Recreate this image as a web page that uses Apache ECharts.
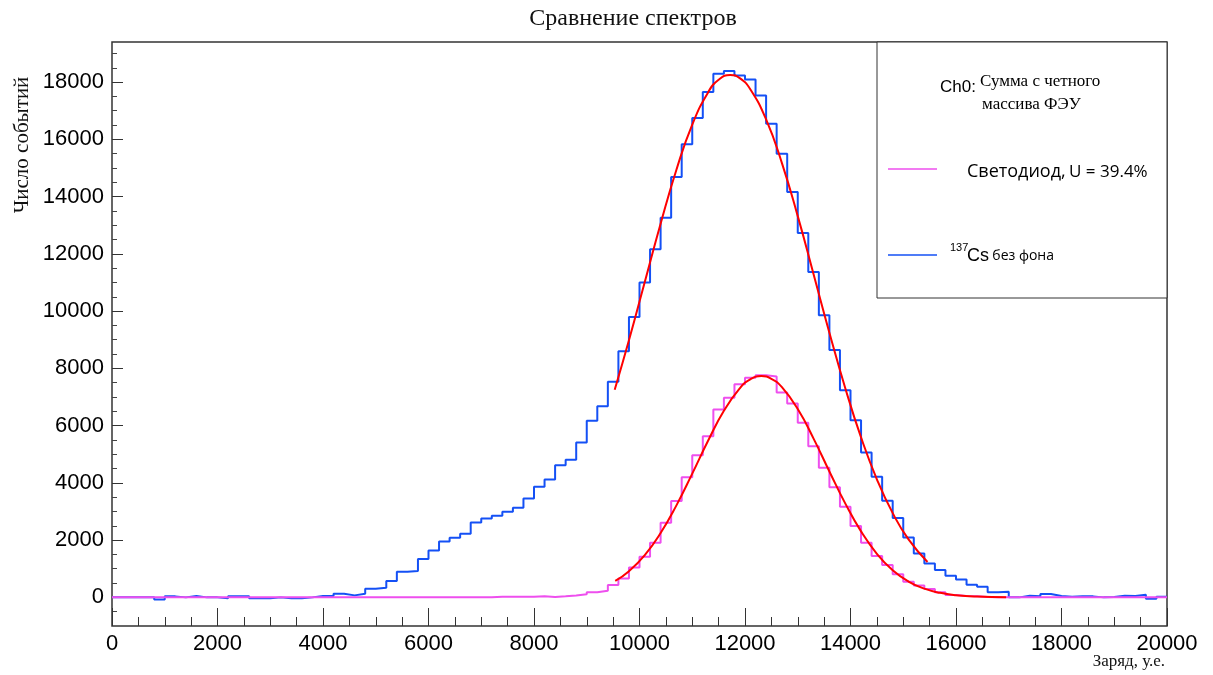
<!DOCTYPE html>
<html>
<head>
<meta charset="utf-8">
<title>Сравнение спектров</title>
<script src="https://cdn.jsdelivr.net/npm/echarts@6/dist/echarts.min.js"></script>
<style>
  html, body { margin: 0; padding: 0; background: #fff; }
  #chart { width: 1213px; height: 675px; }
</style>
</head>
<body>
<div id="chart"></div>
<script>
// гистограммы: 100 бинов по 200 у.е., от 0 до 20000
var binStart = 0
var binWidth = 200

// 137Cs без фона (синяя)
var csCounts = [
  0, 0, 0, 0, -70, 35, 0, 47, 0, 0,
  -35, 35, 35, -35, -35, 0, -35, -35, 0, 47,
  47, 128, 70, 128, 302, 337, 570, 896, 920, 1338,
  1640, 1955, 2083, 2222, 2618, 2757, 2850, 2990, 3130, 3455,
  3863, 4119, 4619, 4806, 5410, 6167, 6678, 7528, 8600, 9797,
  10995, 12159, 13264, 14683, 15824, 16743, 17650, 18290, 18383, 18232,
  18092, 17534, 16545, 15498, 14160, 12729, 11367, 9855, 8640, 7237,
  6190, 5061, 4212, 3374, 2769, 2094, 1536, 1187, 954, 756,
  628, 442, 372, 175, 198, 0, 58, 35, 116, 47,
  23, 35, 35, 0, 12, 58, 47, 93, -47, 23
]

// Светодиод (розовая)
var ledCounts = [
  0, 0, 0, 0, 0, 0, 0, 0, 0, 0,
  0, 0, 0, 0, 0, 0, 0, 0, 0, 0,
  0, 0, 0, 0, 0, 0, 0, 0, 0, 0,
  0, 0, 0, 0, 0, 0, 20, 20, 20, 20,
  35, 12, 35, 65, 105, 180, 230, 430, 660, 1047,
  1420, 1908, 2606, 3370, 4200, 4968, 5631, 6562, 6969, 7446,
  7675, 7760, 7715, 7156, 6772, 6097, 5282, 4526, 3850, 3165,
  2496, 1908, 1448, 1129, 808, 547, 419, 291, 175, 81,
  47, 35, 12, 0, 0, 0, 0, 0, 0, 0,
  0, 0, 0, 0, 0, 0, 0, 0, 0, 0
]

// красные кривые фита, точки
var csFitX = [9530, 9800, 10100, 10400, 10700, 11000, 11300, 11500, 11720, 11900, 12100, 12400, 12700, 13000, 13300, 13600, 13900, 14200, 14500, 14800, 15100, 15460]
var csFitY = [7253, 8979, 11016, 13051, 14939, 16516, 17640, 18080, 18250, 18137, 17750, 16697, 15171, 13317, 11289, 9245, 7315, 5588, 4124, 2942, 2026, 1237]

var ledFitX = [9540, 9800, 10100, 10400, 10700, 11000, 11300, 11600, 11900, 12100, 12310, 12500, 12700, 13000, 13300, 13600, 13900, 14200, 14500, 14800, 15100, 15400, 15700, 16000, 16400, 16950]
var ledFitY = [575, 915, 1478, 2247, 3213, 4323, 5472, 6516, 7302, 7615, 7730, 7636, 7342, 6579, 5546, 4399, 3284, 2305, 1523, 947, 554, 304, 158, 77, 27, 5]

// подписи осей
var xTicks = [0, 2000, 4000, 6000, 8000, 10000, 12000, 14000, 16000, 18000, 20000]
var yTicks = [0, 2000, 4000, 6000, 8000, 10000, 12000, 14000, 16000, 18000]
var yMinorTicks = [-500, 500, 1000, 1500, 2500, 3000, 3500, 4500, 5000, 5500, 6500, 7000, 7500, 8500, 9000, 9500,
  10500, 11000, 11500, 12500, 13000, 13500, 14500, 15000, 15500, 16500, 17000, 17500, 18500, 19000]

;(function () {
  var blue = '#1450f5'
  var pink = '#ee4fee'
  var red = '#ff0000'
  var sans = 'Liberation Sans, Arial, sans-serif'
  var serif = 'Liberation Serif, Times New Roman, serif'

  // гистограмма в виде ступенек: точка на левом краю каждого бина
  var toSteps = function (counts) {
    var pts = counts.map(function (v, i) {
      return [binStart + i * binWidth, v]
    })
    pts.push([binStart + counts.length * binWidth, counts[counts.length - 1]])
    return pts
  }
  var zip = function (xs, ys) {
    return xs.map(function (x, i) {
      return [x, ys[i]]
    })
  }
  // без разделителей тысяч
  var plain = function (v) {
    return String(v)
  }

  var myChart = echarts.init(document.getElementById('chart'))

  var option = {
    animation: false,
    backgroundColor: '#fff',
    grid: {
      left: 112,
      right: 46,
      top: 42,
      bottom: 49,
      show: true,
      borderColor: '#333',
      borderWidth: 1.5,
      backgroundColor: 'transparent',
    },
    xAxis: {
      type: 'value',
      min: 0,
      max: 20000,
      interval: 2000,
      axisLine: { show: false, onZero: false },
      axisTick: {
        show: true,
        inside: true,
        length: 18,
        lineStyle: { color: '#333', width: 1 },
      },
      minorTick: {
        show: true,
        splitNumber: 4,
        length: 9,
        lineStyle: { color: '#333', width: 1 },
      },
      axisLabel: {
        margin: 7,
        color: '#000',
        fontSize: 22,
        fontFamily: sans,
        showMaxLabel: true,
        showMinLabel: true,
        customValues: xTicks,
        formatter: plain,
      },
      splitLine: { show: false },
      minorSplitLine: { show: false },
    },
    yAxis: [
      {
        type: 'value',
        min: -1000,
        max: 19400,
        axisLine: { show: false, onZero: false },
        axisTick: {
          show: true,
          inside: true,
          length: 11,
          customValues: yTicks,
          lineStyle: { color: '#333', width: 1 },
        },
        axisLabel: {
          margin: 8,
          color: '#000',
          fontSize: 22,
          fontFamily: sans,
          customValues: yTicks,
          formatter: plain,
        },
        splitLine: { show: false },
      },
      {
        // короткие засечки
        type: 'value',
        position: 'left',
        min: -1000,
        max: 19400,
        axisLine: { show: false, onZero: false },
        axisTick: {
          show: true,
          inside: true,
          length: 5,
          customValues: yMinorTicks,
          lineStyle: { color: '#444', width: 1 },
        },
        axisLabel: { show: false },
        splitLine: { show: false },
      },
    ],
    series: [
      {
        name: '137Cs без фона',
        type: 'line',
        step: 'end',
        symbol: 'none',
        lineStyle: { color: blue, width: 2 },
        data: toSteps(csCounts),
        z: 2,
      },
      {
        name: 'Светодиод',
        type: 'line',
        step: 'end',
        symbol: 'none',
        lineStyle: { color: pink, width: 2 },
        data: toSteps(ledCounts),
        z: 3,
      },
      {
        name: 'fit Cs',
        type: 'line',
        smooth: true,
        symbol: 'none',
        lineStyle: { color: red, width: 2 },
        data: zip(csFitX, csFitY),
        z: 4,
      },
      {
        name: 'fit LED',
        type: 'line',
        smooth: true,
        symbol: 'none',
        lineStyle: { color: red, width: 2 },
        data: zip(ledFitX, ledFitY),
        z: 4,
      },
    ],
    graphic: [
      // заголовок
      {
        type: 'text',
        x: 633,
        y: 19,
        style: { text: 'Сравнение спектров', font: '24px ' + serif, fill: '#111', align: 'center', verticalAlign: 'middle' },
      },
      // названия осей
      {
        type: 'text',
        x: 22,
        y: 145,
        rotation: Math.PI / 2,
        style: { text: 'Число событий', font: '21px ' + serif, fill: '#111', align: 'center', verticalAlign: 'middle' },
      },
      {
        type: 'text',
        x: 1165,
        y: 662,
        style: { text: 'Заряд, у.е.', font: '17px ' + serif, fill: '#111', align: 'right', verticalAlign: 'middle' },
      },
      // легенда
      {
        type: 'rect',
        shape: { x: 877, y: 42, width: 290, height: 256 },
        style: { fill: '#fff', stroke: '#333', lineWidth: 1 },
        z: 10,
      },
      {
        type: 'text',
        x: 940,
        y: 87,
        z: 11,
        style: { text: 'Ch0:', font: '17px ' + sans, fill: '#000', verticalAlign: 'middle' },
      },
      {
        type: 'text',
        x: 980,
        y: 82,
        z: 11,
        style: { text: 'Сумма с четного', font: '17px ' + serif, fill: '#000', verticalAlign: 'middle' },
      },
      {
        type: 'text',
        x: 982,
        y: 105,
        z: 11,
        style: { text: 'массива ФЭУ', font: '17px ' + serif, fill: '#000', verticalAlign: 'middle' },
      },
      {
        type: 'line',
        shape: { x1: 888, y1: 169, x2: 937, y2: 169 },
        style: { stroke: pink, lineWidth: 1.5 },
        z: 11,
      },
      {
        type: 'text',
        x: 967,
        y: 172,
        z: 11,
        style: {
          text: '{a|Светодиод,} {b|U = 39.4%}',
          verticalAlign: 'middle',
          rich: {
            a: { font: '18px Open Sans, ' + sans, fill: '#000' },
            b: { font: '17px Open Sans, ' + sans, fill: '#000' },
          },
        },
      },
      {
        type: 'line',
        shape: { x1: 888, y1: 255, x2: 937, y2: 255 },
        style: { stroke: blue, lineWidth: 1.5 },
        z: 11,
      },
      {
        type: 'text',
        x: 950,
        y: 248,
        z: 11,
        style: { text: '137', font: '11px ' + sans, fill: '#000', verticalAlign: 'middle' },
      },
      {
        type: 'text',
        x: 967,
        y: 256,
        z: 11,
        style: {
          text: '{a|Cs} {b|без фона}',
          verticalAlign: 'middle',
          rich: {
            a: { font: '18px ' + sans, fill: '#000' },
            b: { font: '14px Open Sans, ' + sans, fill: '#000' },
          },
        },
      },
    ],
  }

  myChart.setOption(option)
  window.addEventListener('resize', function () {
    myChart.resize()
  }, false)
})()
</script>
</body>
</html>
